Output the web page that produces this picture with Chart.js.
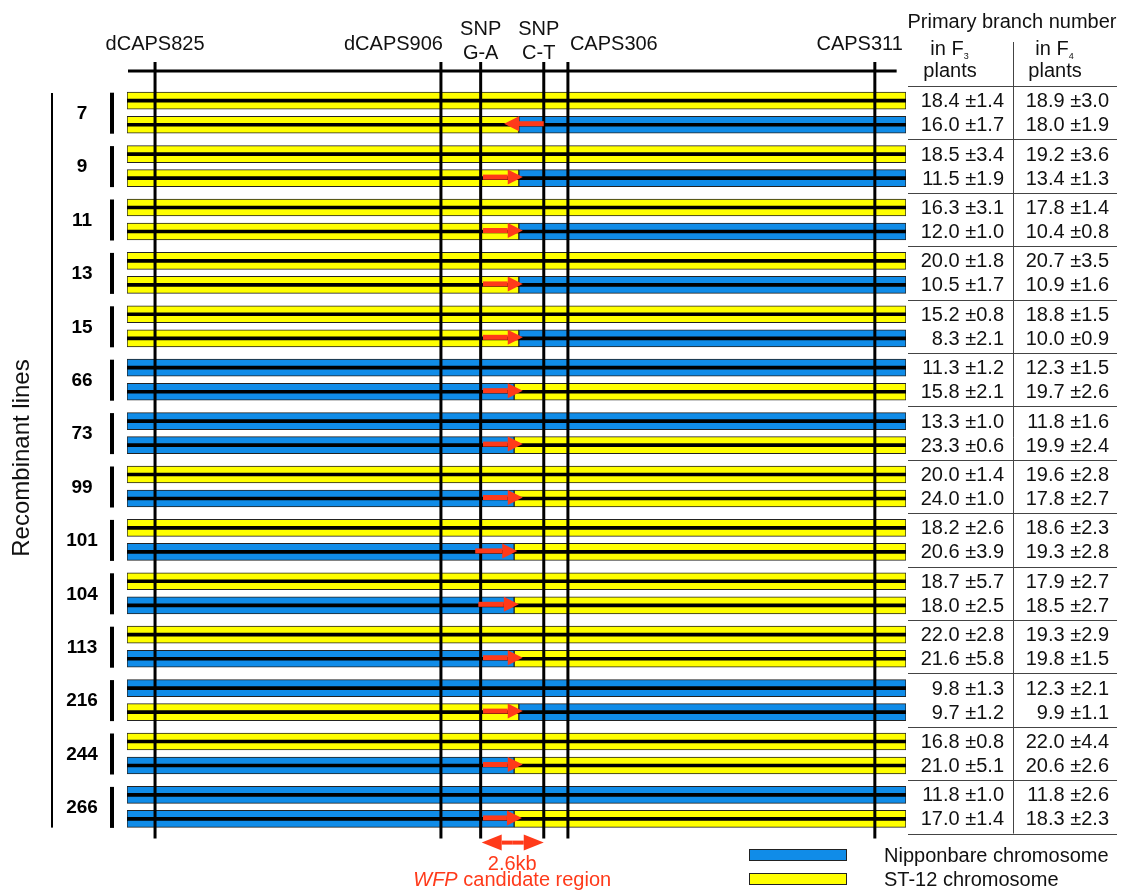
<!DOCTYPE html>
<html>
<head>
<meta charset="utf-8">
<title>Recombinant lines</title>
<script src="https://cdn.jsdelivr.net/npm/chart.js@4.4.0/dist/chart.umd.min.js"></script>
<style>
  html, body { margin: 0; padding: 0; background: #fff; }
  canvas { display: block; }
</style>
</head>
<body>
<canvas id="mapChart" width="1124" height="892"></canvas>
<script>
const lines = ['7', '9', '11', '13', '15', '66', '73', '99', '101', '104', '113', '216', '244', '266'];

// genotype of each line: upper chromosome, lower chromosome left / right of the breakpoint
const upperChrom = ['ST', 'ST', 'ST', 'ST', 'ST', 'NB', 'NB', 'ST', 'ST', 'ST', 'ST', 'NB', 'ST', 'NB'];
const lowerLeft  = ['ST', 'ST', 'ST', 'ST', 'ST', 'NB', 'NB', 'NB', 'NB', 'NB', 'NB', 'ST', 'NB', 'NB'];
const lowerRight = ['NB', 'NB', 'NB', 'NB', 'NB', 'ST', 'ST', 'ST', 'ST', 'ST', 'ST', 'NB', 'ST', 'ST'];
const breakPoint = [50.3, 50.3, 50.3, 50.3, 50.3, 49.7, 49.7, 49.7, 49.7, 49.7, 49.7, 50.3, 49.7, 49.7];

// red arrows on the lower chromosome (start -> tip)
const arrowFrom = [53.5, 45.7, 45.7, 45.7, 45.7, 45.7, 45.7, 45.7, 44.7, 45.1, 45.7, 45.7, 45.7, 45.7];
const arrowTo   = [48.4, 50.8, 50.8, 50.8, 50.8, 50.8, 50.8, 50.8, 50.1, 50.3, 50.8, 50.8, 50.8, 50.7];

// markers along the chromosome (0 - 100)
const markerNames = ['dCAPS825', 'dCAPS906', 'SNP\nG-A', 'SNP\nC-T', 'CAPS306', 'CAPS311'];
const markerPos = [3.6, 40.3, 45.4, 53.5, 56.6, 96.0];

// primary branch number, two rows per line (upper, lower)
const f3Mean = [18.4, 16.0, 18.5, 11.5, 16.3, 12.0, 20.0, 10.5, 15.2, 8.3, 11.3, 15.8, 13.3, 23.3,
                20.0, 24.0, 18.2, 20.6, 18.7, 18.0, 22.0, 21.6, 9.8, 9.7, 16.8, 21.0, 11.8, 17.0];
const f3Sd   = [1.4, 1.7, 3.4, 1.9, 3.1, 1.0, 1.8, 1.7, 0.8, 2.1, 1.2, 2.1, 1.0, 0.6,
                1.4, 1.0, 2.6, 3.9, 5.7, 2.5, 2.8, 5.8, 1.3, 1.2, 0.8, 5.1, 1.0, 1.4];
const f4Mean = [18.9, 18.0, 19.2, 13.4, 17.8, 10.4, 20.7, 10.9, 18.8, 10.0, 12.3, 19.7, 11.8, 19.9,
                19.6, 17.8, 18.6, 19.3, 17.9, 18.5, 19.3, 19.8, 12.3, 9.9, 22.0, 20.6, 11.8, 18.3];
const f4Sd   = [3.0, 1.9, 3.6, 1.3, 1.4, 0.8, 3.5, 1.6, 1.5, 0.9, 1.5, 2.6, 1.6, 2.4,
                2.8, 2.7, 2.3, 2.8, 2.7, 2.7, 2.9, 1.5, 2.1, 1.1, 4.4, 2.6, 2.6, 2.3];

const YELLOW = '#ffff00';
const BLUE = '#108ce8';
const RED = '#ff3a1a';
const FONT = '"Liberation Sans", Arial, Helvetica, sans-serif';
const ROW_OFF = 0.225; // upper / lower chromosome offset from the line centre

// build the floating bar segments
const stSegs = [];
const nbSegs = [];
const midSegs = [];
lines.forEach((name, g) => {
    const yUp = g - ROW_OFF;
    const yLo = g + ROW_OFF;
    (upperChrom[g] === 'ST' ? stSegs : nbSegs).push({ x: [0, 100], y: yUp });
    (lowerLeft[g] === 'ST' ? stSegs : nbSegs).push({ x: [0, breakPoint[g]], y: yLo });
    (lowerRight[g] === 'ST' ? stSegs : nbSegs).push({ x: [breakPoint[g], 100], y: yLo });
    midSegs.push({ x: [0, 100], y: yUp });
    midSegs.push({ x: [0, 100], y: yLo });
});

function drawArrow(ctx, x0, x1, yy, head, half, shaft) {
    const dir = x1 > x0 ? 1 : -1;
    const base = x1 - dir * head;
    ctx.fillRect(Math.min(x0, base), yy - shaft / 2, Math.abs(base - x0), shaft);
    ctx.beginPath();
    ctx.moveTo(x1, yy);
    ctx.lineTo(base, yy - half);
    ctx.lineTo(base, yy + half);
    ctx.closePath();
    ctx.fill();
}

const mapDecor = {
    id: 'mapDecor',
    afterDatasetsDraw(chart) {
        const { ctx, chartArea } = chart;
        const xs = chart.scales.x;
        const ys = chart.scales.y;
        const top = chartArea.top;
        const bottom = chartArea.bottom;
        ctx.save();

        // marker ruler and vertical lines
        ctx.strokeStyle = '#000';
        ctx.lineWidth = 3;
        ctx.beginPath();
        ctx.moveTo(xs.getPixelForValue(0) + 1, top - 15);
        ctx.lineTo(xs.getPixelForValue(98.8), top - 15);
        ctx.stroke();
        markerPos.forEach(p => {
            const px = xs.getPixelForValue(p);
            ctx.beginPath();
            ctx.moveTo(px, top - 24);
            ctx.lineTo(px, bottom + 5);
            ctx.stroke();
        });

        // marker names
        ctx.fillStyle = '#111';
        ctx.font = '20px ' + FONT;
        const nameLayout = [
            { align: 'center', dx: 0 },
            { align: 'right', dx: 2 },
            { align: 'center', dx: 0 },
            { align: 'center', dx: -5 },
            { align: 'left', dx: 2 },
            { align: 'right', dx: 28 }
        ];
        markerNames.forEach((n, i) => {
            const px = xs.getPixelForValue(markerPos[i]) + nameLayout[i].dx;
            ctx.textAlign = nameLayout[i].align;
            const parts = n.split('\n');
            if (parts.length === 1) {
                ctx.fillText(parts[0], px, 50);
            } else {
                ctx.fillText(parts[0], px, 35);
                ctx.fillText(parts[1], px, 59);
            }
        });

        // red arrows on the recombinant chromosome
        ctx.fillStyle = RED;
        lines.forEach((name, g) => {
            const yy = ys.getPixelForValue(g + ROW_OFF) - 1;
            drawArrow(ctx, xs.getPixelForValue(arrowFrom[g]), xs.getPixelForValue(arrowTo[g]), yy, 15, 7.5, 5);
        });

        // line labels and brackets
        ctx.fillStyle = '#000';
        ctx.fillRect(51, top + 7, 2, bottom - top - 13);
        ctx.font = 'bold 19px ' + FONT;
        ctx.textAlign = 'center';
        ctx.textBaseline = 'middle';
        lines.forEach((name, g) => {
            const cy = ys.getPixelForValue(g);
            ctx.fillText(name, 82, cy + 1);
            ctx.fillRect(110, cy - 20, 4, 41);
        });

        // axis title
        ctx.save();
        ctx.translate(22, 458);
        ctx.rotate(-Math.PI / 2);
        ctx.font = '24px ' + FONT;
        ctx.fillStyle = '#111';
        ctx.fillText('Recombinant lines', 0, 0);
        ctx.restore();

        // table of branch numbers
        const tLeft = xs.right + 2;
        const tRight = 1117;
        const tMid = 1013;
        ctx.strokeStyle = '#444';
        ctx.lineWidth = 1;
        for (let k = 0; k <= lines.length; k++) {
            const yy = Math.round(ys.getPixelForValue(k - 0.5)) + 0.5;
            ctx.beginPath();
            ctx.moveTo(tLeft, yy);
            ctx.lineTo(tRight, yy);
            ctx.stroke();
        }
        ctx.beginPath();
        ctx.moveTo(tMid + 0.5, 42);
        ctx.lineTo(tMid + 0.5, bottom);
        ctx.stroke();

        ctx.fillStyle = '#111';
        ctx.font = '20px ' + FONT;
        ctx.textAlign = 'right';
        ctx.textBaseline = 'middle';
        f3Mean.forEach((m, i) => {
            const g = Math.floor(i / 2);
            const yy = ys.getPixelForValue(g + (i % 2 ? ROW_OFF : -ROW_OFF)) + 1;
            ctx.fillText(m.toFixed(1) + ' \u00b1' + f3Sd[i].toFixed(1), 1004, yy);
            ctx.fillText(f4Mean[i].toFixed(1) + ' \u00b1' + f4Sd[i].toFixed(1), 1109, yy);
        });

        // table header
        ctx.textBaseline = 'alphabetic';
        ctx.textAlign = 'center';
        ctx.fillText('Primary branch number', 1012, 28);
        [['3', 950], ['4', 1055]].forEach(([gen, cx]) => {
            ctx.font = '20px ' + FONT;
            const w = ctx.measureText('in F').width;
            ctx.textAlign = 'left';
            ctx.fillText('in F', cx - w / 2 - 3, 55);
            ctx.font = '9px ' + FONT;
            ctx.fillText(gen, cx + w / 2 - 3, 59);
            ctx.font = '20px ' + FONT;
            ctx.textAlign = 'center';
            ctx.fillText('plants', cx, 77);
        });

        // candidate region
        const gA = xs.getPixelForValue(markerPos[2]);
        const cT = xs.getPixelForValue(markerPos[3]);
        ctx.fillStyle = RED;
        const ay = bottom + 9;
        drawArrow(ctx, (gA + cT) / 2, cT, ay, 20, 8, 4);
        drawArrow(ctx, (gA + cT) / 2, gA + 1, ay, 20, 8, 4);
        ctx.font = '20px ' + FONT;
        ctx.textAlign = 'center';
        const cx = (gA + cT) / 2;
        ctx.fillText('2.6kb', cx, 870);
        ctx.font = 'italic 20px ' + FONT;
        const w1 = ctx.measureText('WFP').width;
        ctx.font = '20px ' + FONT;
        const w2 = ctx.measureText(' candidate region').width;
        ctx.textAlign = 'left';
        ctx.font = 'italic 20px ' + FONT;
        ctx.fillText('WFP', cx - (w1 + w2) / 2, 886);
        ctx.font = '20px ' + FONT;
        ctx.fillText(' candidate region', cx - (w1 + w2) / 2 + w1, 886);

        // legend
        const legendItems = [[BLUE, 'Nipponbare chromosome', 849], [YELLOW, 'ST-12 chromosome', 873]];
        legendItems.forEach(([col, label, ly]) => {
            ctx.fillStyle = '#222';
            ctx.fillRect(749, ly, 98, 12);
            ctx.fillStyle = col;
            ctx.fillRect(750, ly + 1, 96, 10);
            ctx.fillStyle = '#111';
            ctx.textBaseline = 'middle';
            ctx.fillText(label, 884, ly + 7);
        });

        ctx.restore();
    }
};

new Chart(document.getElementById('mapChart'), {
    type: 'bar',
    data: {
        datasets: [
            {
                label: 'centromere line',
                data: midSegs,
                backgroundColor: '#000',
                borderWidth: 0,
                barThickness: 3,
                grouped: false
            },
            {
                label: 'ST-12 chromosome',
                data: stSegs,
                backgroundColor: YELLOW,
                borderColor: '#222',
                borderWidth: 1,
                borderSkipped: false,
                barThickness: 17,
                grouped: false
            },
            {
                label: 'Nipponbare chromosome',
                data: nbSegs,
                backgroundColor: BLUE,
                borderColor: '#222',
                borderWidth: 1,
                borderSkipped: false,
                barThickness: 17,
                grouped: false
            }
        ]
    },
    options: {
        indexAxis: 'y',
        responsive: false,
        animation: false,
        layout: { padding: { left: 127, right: 218, top: 86, bottom: 58.4 } },
        scales: {
            x: { type: 'linear', min: 0, max: 100, display: false },
            y: { type: 'linear', min: -0.5, max: 13.5, reverse: true, offset: false, display: false }
        },
        plugins: {
            legend: { display: false },
            tooltip: { enabled: false }
        }
    },
    plugins: [mapDecor]
});
</script>
</body>
</html>
